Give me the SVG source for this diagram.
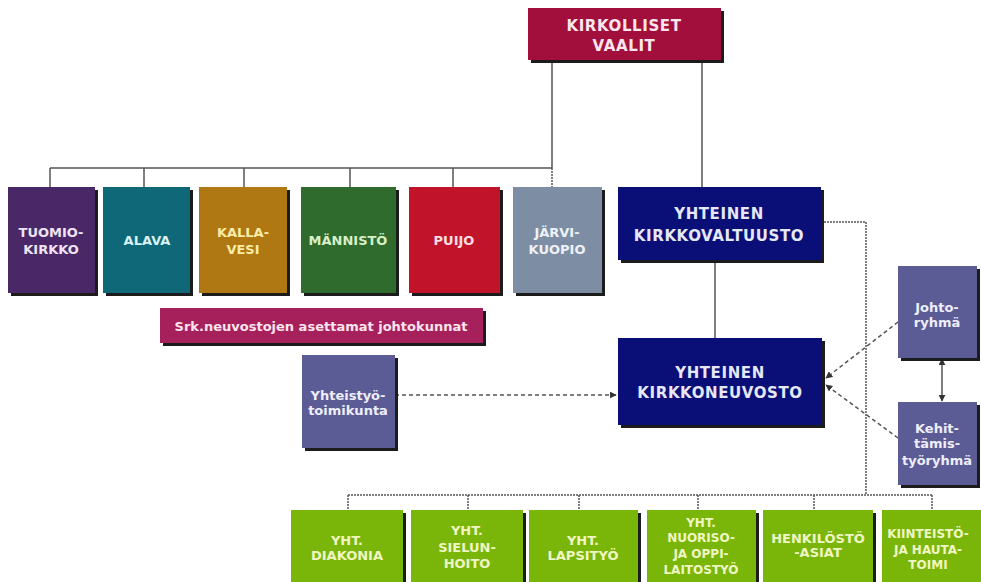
<svg xmlns="http://www.w3.org/2000/svg" width="981" height="582" viewBox="0 0 981 582">
<defs>
<marker id="ah" viewBox="0 0 10 10" refX="9" refY="5" markerWidth="7" markerHeight="7" orient="auto-start-reverse" markerUnits="userSpaceOnUse">
<path d="M0,0 L10,5 L0,10 z" fill="#333"/>
</marker>
</defs>
<style>
text{font-family:"DejaVu Sans","Liberation Sans",sans-serif;font-weight:bold;text-anchor:middle}
.sh{fill:#1c1c1c}
.big{font-size:15px;letter-spacing:0.6px}
.t13{font-size:13px}
.t12{font-size:12px}
.ln{stroke:#555;stroke-width:1.5;fill:none}
.dt{stroke:#555;stroke-width:1.5;fill:none;stroke-dasharray:2 1}
.da{stroke:#555;stroke-width:1.5;fill:none;stroke-dasharray:4 3}
</style>
<rect width="981" height="582" fill="#fff"/>
<g id="connectors">
<path class="ln" d="M552,60 V168 M50,168 H552 M50,168 V187 M144,168 V187 M244,168 V187 M350,168 V187 M453,168 V187"/>
<path class="dt" d="M552,168 V187"/>
<path class="ln" d="M702,60 V187"/>
<path class="ln" d="M715,260 V338"/>
<path class="dt" d="M821,222 H866 V495"/>
<path class="dt" d="M348,495 H932 M348,495 V510 M468,495 V510 M579,495 V510 M698,495 V510 M814,495 V510 M932,495 V510"/>
<path class="da" d="M395,395 H616" marker-end="url(#ah)"/>
<path class="da" d="M898,322 L826,378" marker-end="url(#ah)"/>
<path class="da" d="M898,438 L826,385" marker-end="url(#ah)"/>
<path class="ln" d="M942,359 V401" marker-start="url(#ah)" marker-end="url(#ah)"/>
</g>
<g id="kirkolliset-vaalit">
<rect class="sh" x="531" y="11" width="193" height="52"/>
<rect x="528" y="8" width="193" height="52" fill="#a30f3c"/>
<text class="big" x="624" y="31" fill="#fbe6ee">KIRKOLLISET</text>
<text class="big" x="624" y="51" fill="#fbe6ee">VAALIT</text>
</g>
<g id="tuomiokirkko">
<rect class="sh" x="11" y="190" width="87" height="106"/>
<rect x="8" y="187" width="87" height="106" fill="#4a2868"/>
<text class="t13" x="51" y="237" fill="#eee4f4">TUOMIO-</text>
<text class="t13" x="51" y="254" fill="#eee4f4">KIRKKO</text>
</g>
<g id="alava">
<rect class="sh" x="106" y="190" width="87" height="106"/>
<rect x="103" y="187" width="87" height="106" fill="#0e6877"/>
<text class="t13" x="147" y="245" fill="#d8f2f4">ALAVA</text>
</g>
<g id="kallavesi">
<rect class="sh" x="202" y="190" width="88" height="106"/>
<rect x="199" y="187" width="88" height="106" fill="#b07812"/>
<text class="t13" x="243" y="237" fill="#f8eca8">KALLA-</text>
<text class="t13" x="243" y="254" fill="#f8eca8">VESI</text>
</g>
<g id="mannisto">
<rect class="sh" x="304" y="190" width="95" height="106"/>
<rect x="301" y="187" width="95" height="106" fill="#2e6b2c"/>
<text class="t13" x="348" y="245" fill="#d8f0c8">MÄNNISTÖ</text>
</g>
<g id="puijo">
<rect class="sh" x="412" y="190" width="91" height="106"/>
<rect x="409" y="187" width="91" height="106" fill="#c1142a"/>
<text class="t13" x="454" y="245" fill="#fbdde2">PUIJO</text>
</g>
<g id="jarvikuopio">
<rect class="sh" x="516" y="190" width="89" height="106"/>
<rect x="513" y="187" width="89" height="106" fill="#7d8ea4"/>
<text class="t13" x="557" y="237" fill="#eef2f6">JÄRVI-</text>
<text class="t13" x="557" y="254" fill="#eef2f6">KUOPIO</text>
</g>
<g id="kirkkovaltuusto">
<rect class="sh" x="621" y="190" width="203" height="73"/>
<rect x="618" y="187" width="203" height="73" fill="#0a0f78"/>
<text class="big" x="719" y="219" fill="#e6e8f8">YHTEINEN</text>
<text class="big" x="719" y="241" fill="#e6e8f8">KIRKKOVALTUUSTO</text>
</g>
<g id="srk-johtokunnat">
<rect class="sh" x="163" y="311" width="323" height="35"/>
<rect x="160" y="308" width="323" height="35" fill="#a6205c"/>
<text class="t13" x="321" y="330.5" fill="#fbe4ee">Srk.neuvostojen asettamat johtokunnat</text>
</g>
<g id="yhteistyotoimikunta">
<rect class="sh" x="305" y="358" width="93" height="93"/>
<rect x="302" y="355" width="93" height="93" fill="#5b5b96"/>
<text class="t13" x="348" y="400" fill="#eeeefa">Yhteistyö-</text>
<text class="t13" x="348" y="415" fill="#eeeefa">toimikunta</text>
</g>
<g id="kirkkoneuvosto">
<rect class="sh" x="621" y="341" width="204" height="87"/>
<rect x="618" y="338" width="204" height="87" fill="#0a0f78"/>
<text class="big" x="720" y="377.5" fill="#e6e8f8">YHTEINEN</text>
<text class="big" x="720" y="398" fill="#e6e8f8">KIRKKONEUVOSTO</text>
</g>
<g id="johtoryhma">
<rect class="sh" x="901" y="269" width="79" height="92"/>
<rect x="898" y="266" width="79" height="92" fill="#5b5b96"/>
<text class="t13" x="937" y="311.5" fill="#eeeefa">Johto-</text>
<text class="t13" x="937" y="327" fill="#eeeefa">ryhmä</text>
</g>
<g id="kehittamistyoryhma">
<rect class="sh" x="901" y="405" width="79" height="83"/>
<rect x="898" y="402" width="79" height="83" fill="#5b5b96"/>
<text class="t13" x="937" y="432.5" fill="#eeeefa">Kehit-</text>
<text class="t13" x="937" y="448" fill="#eeeefa">tämis-</text>
<text class="t13" x="937" y="465" fill="#eeeefa">työryhmä</text>
</g>
<g id="diakonia">
<rect class="sh" x="294" y="513" width="112" height="72"/>
<rect x="291" y="510" width="112" height="72" fill="#7ab60a"/>
<text class="t13" x="347" y="545" fill="#f0f6c4">YHT.</text>
<text class="t13" x="347" y="560" fill="#f0f6c4">DIAKONIA</text>
</g>
<g id="sielunhoito">
<rect class="sh" x="414" y="513" width="112" height="72"/>
<rect x="411" y="510" width="112" height="72" fill="#7ab60a"/>
<text class="t13" x="467" y="535" fill="#f0f6c4">YHT.</text>
<text class="t13" x="467" y="552" fill="#f0f6c4">SIELUN-</text>
<text class="t13" x="467" y="568" fill="#f0f6c4">HOITO</text>
</g>
<g id="lapsityo">
<rect class="sh" x="532" y="513" width="109" height="72"/>
<rect x="529" y="510" width="109" height="72" fill="#7ab60a"/>
<text class="t13" x="583" y="545" fill="#f0f6c4">YHT.</text>
<text class="t13" x="583" y="560" fill="#f0f6c4">LAPSITYÖ</text>
</g>
<g id="nuorisotyo">
<rect class="sh" x="650" y="513" width="109" height="72"/>
<rect x="647" y="510" width="109" height="72" fill="#7ab60a"/>
<text class="t12" x="701" y="526.5" fill="#f0f6c4">YHT.</text>
<text class="t12" x="701" y="541.5" fill="#f0f6c4">NUORISO-</text>
<text class="t12" x="701" y="557.5" fill="#f0f6c4">JA OPPI-</text>
<text class="t12" x="701" y="573.5" fill="#f0f6c4">LAITOSTYÖ</text>
</g>
<g id="henkilostoasiat">
<rect class="sh" x="766" y="513" width="110" height="72"/>
<rect x="763" y="510" width="110" height="72" fill="#7ab60a"/>
<text class="t13" x="818" y="543" fill="#f0f6c4">HENKILÖSTÖ</text>
<text class="t13" x="818" y="557" fill="#f0f6c4">-ASIAT</text>
</g>
<g id="kiinteistotoimi">
<rect class="sh" x="885" y="513" width="100" height="72"/>
<rect x="882" y="510" width="100" height="72" fill="#7ab60a"/>
<text class="t12" x="928" y="537.5" fill="#f0f6c4">KIINTEISTÖ-</text>
<text class="t12" x="928" y="553.5" fill="#f0f6c4">JA HAUTA-</text>
<text class="t12" x="928" y="568.5" fill="#f0f6c4">TOIMI</text>
</g>
</svg>
